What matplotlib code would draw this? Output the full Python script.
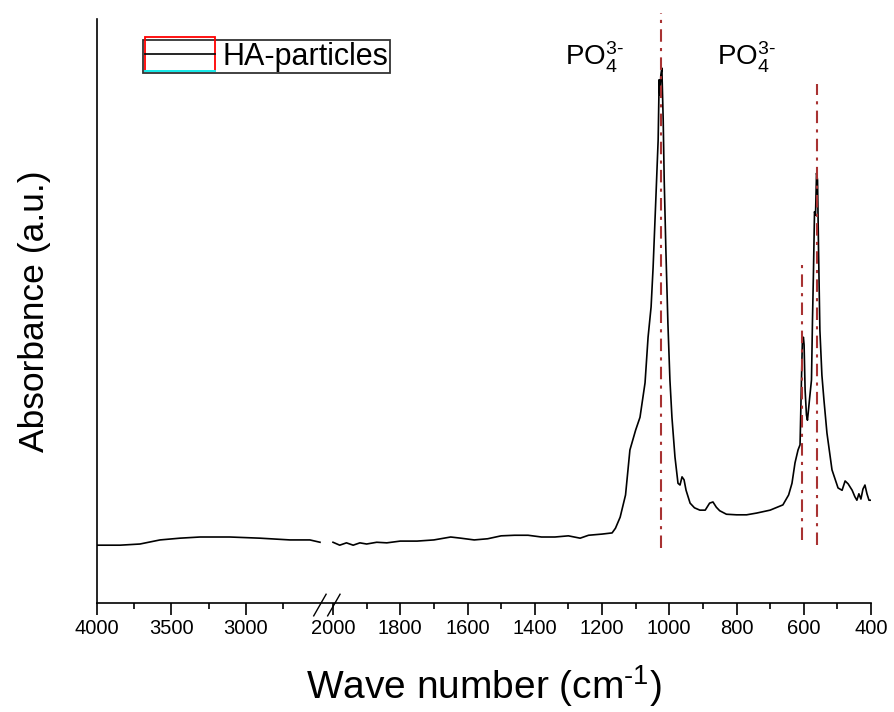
import numpy as np
import matplotlib
matplotlib.use("Agg")
import matplotlib.pyplot as plt
from matplotlib.lines import Line2D
from matplotlib.patches import Rectangle
from matplotlib.legend_handler import HandlerBase

plt.rcParams['font.family'] = ['Liberation Sans', 'DejaVu Sans']
plt.rcParams['mathtext.fontset'] = 'custom'
plt.rcParams['mathtext.rm'] = 'Liberation Sans'
plt.rcParams['mathtext.it'] = 'Liberation Sans:italic'

# spectrum, high wavenumber part (before the axis break)
wn_high = [4000, 3845, 3711, 3576, 3442, 3307, 3106, 2904, 2702, 2568, 2500]
ab_high = [0.099, 0.099, 0.101, 0.108, 0.111, 0.113, 0.113, 0.111, 0.108, 0.108, 0.104]

# spectrum, 2000-400 part
wn_low = [2000, 1980, 1960, 1940, 1920, 1900, 1870, 1840, 1800, 1750, 1700, 1650, 1620,
          1580, 1540, 1500, 1460, 1420, 1380, 1340, 1300, 1265, 1240, 1200, 1170, 1160,
          1146, 1130, 1117, 1100, 1087, 1072, 1063, 1054, 1048, 1040, 1033, 1030, 1028,
          1025, 1022, 1018, 1015, 1010, 1004, 998, 992, 983, 974, 968, 962, 956, 950,
          938, 925, 909, 893, 880, 870, 860, 850, 830, 800, 770, 740, 700, 662, 645,
          635, 626, 617, 611, 607, 604, 601, 599, 596, 592, 589, 586, 583, 580, 577,
          574, 571, 568, 565, 562, 559, 556, 552, 546, 540, 531, 516, 498, 486, 477,
          468, 456, 448, 442, 436, 430, 424, 418, 412, 406, 400]
ab_low = [0.104, 0.099, 0.103, 0.099, 0.103, 0.101, 0.104, 0.103, 0.106, 0.106, 0.108,
          0.113, 0.111, 0.108, 0.110, 0.115, 0.116, 0.116, 0.113, 0.113, 0.115, 0.111,
          0.116, 0.118, 0.120, 0.128, 0.147, 0.185, 0.262, 0.296, 0.318, 0.377, 0.455,
          0.507, 0.575, 0.690, 0.793, 0.896, 0.870, 0.904, 0.916, 0.827, 0.724, 0.604,
          0.479, 0.382, 0.318, 0.250, 0.205, 0.202, 0.216, 0.211, 0.193, 0.171, 0.163,
          0.159, 0.159, 0.171, 0.173, 0.164, 0.158, 0.152, 0.151, 0.151, 0.154, 0.159,
          0.168, 0.185, 0.205, 0.240, 0.262, 0.271, 0.377, 0.450, 0.455, 0.442, 0.365,
          0.322, 0.313, 0.330, 0.348, 0.365, 0.382, 0.485, 0.570, 0.670, 0.664, 0.736,
          0.724, 0.604, 0.467, 0.390, 0.348, 0.291, 0.228, 0.197, 0.193, 0.209, 0.204,
          0.193, 0.182, 0.176, 0.187, 0.178, 0.195, 0.202, 0.187, 0.176, 0.176]

# marked PO4 bands: position, bottom, top
band_pos = [1025, 605, 561]
band_bottom = [0.094, 0.108, 0.099]
band_top = [1.010, 0.584, 0.889]

major_ticks = [4000, 3500, 3000, 2000, 1800, 1600, 1400, 1200, 1000, 800, 600, 400]
minor_ticks = [3750, 3250, 2750, 1900, 1700, 1500, 1300, 1100, 900, 700, 500]

# broken axis: 4000-2500 squeezed, small gap, then 2000-400
XP = [-20000, 400, 2000, 2500, 4000, 20000]
FP = [-6859.5, 0, 538, 551, 774, 3152.7]


def fwd(x):
    return np.interp(x, XP, FP)


def inv(u):
    return np.interp(u, FP, XP)


class BoxedLine(HandlerBase):
    def create_artists(self, legend, orig_handle, xdescent, ydescent, width, height, fontsize, trans):
        y0 = -ydescent - 0.3 * height
        h = height * 1.6
        box = Rectangle((-xdescent, y0), width, h, fill=False, edgecolor='red', lw=1.3, transform=trans)
        cy = Line2D([-xdescent, -xdescent + width], [y0, y0], color='cyan', lw=1.3, transform=trans)
        ln = Line2D([-xdescent, -xdescent + width], [height / 2 - ydescent] * 2, color='black', lw=1.2,
                    transform=trans)
        return [box, cy, ln]


fig = plt.figure(figsize=(8.94, 7.12), dpi=100)
ax = fig.add_axes([97 / 894, 109 / 712, 774 / 894, 584 / 712])
ax.set_xscale('function', functions=(fwd, inv))

line, = ax.plot(wn_high, ab_high, color='black', lw=1.2)
ax.plot(wn_low, ab_low, color='black', lw=1.2)

ax.vlines(band_pos, band_bottom, band_top, colors='#a83232', linestyles=(0, (6, 3, 1.5, 3)), lw=1.5,
          clip_on=False)

po4 = r'PO$_4^{3\text{-}}$'
ax.text(1223, 0.935, po4, fontsize=20, ha='center', va='center')
ax.text(770, 0.935, po4, fontsize=20, ha='center', va='center')

ax.set_xlim(4000, 400)
ax.set_ylim(0, 1)
ax.set_xticks(major_ticks)
ax.set_xticklabels([str(t) for t in major_ticks])
ax.set_xticks(minor_ticks, minor=True)
ax.set_yticks([])
ax.tick_params(axis='x', which='major', direction='out', length=8.5, width=1.2, labelsize=14.5, pad=3)
ax.tick_params(axis='x', which='minor', direction='out', length=4.5, width=1.2)

for s in ['top', 'right']:
    ax.spines[s].set_visible(False)
for s in ['left', 'bottom']:
    ax.spines[s].set_linewidth(1.2)

# break marks
for x0 in [0.280, 0.298]:
    ax.plot([x0, x0 + 0.016], [-0.022, 0.015], color='black', lw=1, transform=ax.transAxes, clip_on=False)

ax.set_xlabel(r'Wave number (cm$^{\text{-}1}$)', fontsize=28, labelpad=18)
ax.set_ylabel('Absorbance (a.u.)', fontsize=25.5, labelpad=33)

leg = ax.legend([line], ['HA-particles'], handler_map={Line2D: BoxedLine()}, loc='upper left',
                bbox_to_anchor=(0.0594, 0.964), borderaxespad=0, fontsize=22, frameon=True,
                fancybox=False, edgecolor='#333333', framealpha=1, handlelength=2.3,
                handletextpad=0.25, borderpad=0.05)
leg.get_frame().set_linewidth(1.3)

plt.savefig('out.png', dpi=100)
